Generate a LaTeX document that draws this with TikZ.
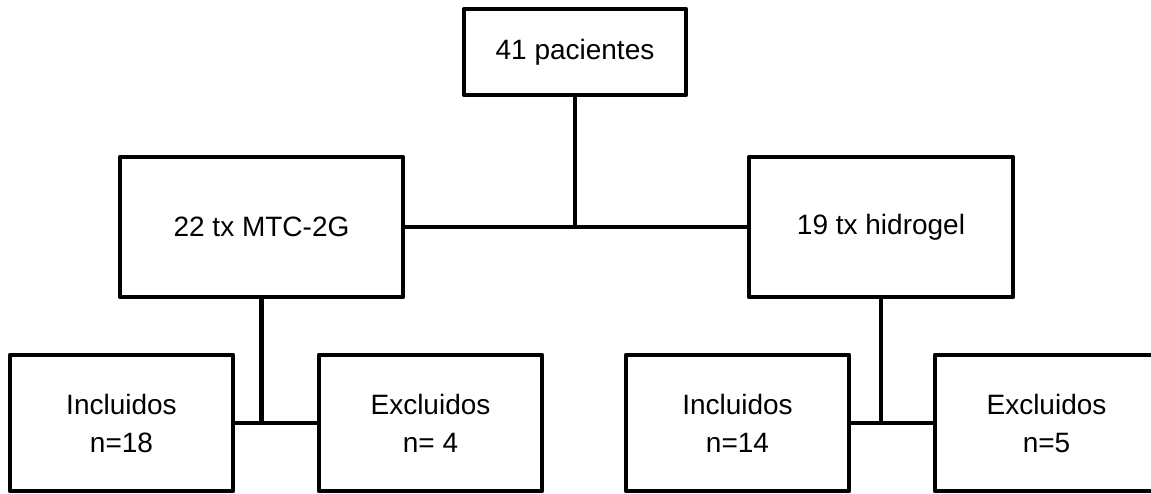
\documentclass[tikz,border=0pt]{standalone}
\usepackage{fontspec}
\setmainfont{Liberation Sans}

\begin{document}
\begin{tikzpicture}
  [
    x=0.75pt, y=-0.75pt,
    box/.style={draw, line width=3.5pt, line join=round, align=center,
      font=\fontsize{21}{28.5}\selectfont},
    link/.style={line width=3.5pt}
  ]
  \clip (0, 0) rectangle (1151, 493);
  \node [box, minimum width=166.5pt, minimum height=64.5pt] at (575, 52) (pac) {41 pacientes};
  \node [box, minimum width=212.25pt, minimum height=105pt] at (261.5, 227) (mtc) {22 tx MTC-2G};
  \node [box, minimum width=198pt, minimum height=105pt] at (881, 227) (hid) {19 tx hidrogel};
  \foreach \name/\pos/\txt in {inc1/121.5/{Incluidos\\n=18}, exc1/430.5/{Excluidos\\n= 4},
      inc2/737.5/{Incluidos\\n=14}, exc2/1046.5/{Excluidos\\n=5}}{
    \node [box, minimum width=167.25pt, minimum height=102pt] at (\pos, 423) (\name) {\txt};
  }
  \draw [link] (mtc) -- (hid);
  \draw [link] (pac) -- (pac |- mtc);
  \draw [link] (inc1) -- (exc1);
  \draw [link] (mtc) -- (mtc |- inc1);
  \draw [link] (inc2) -- (exc2);
  \draw [link] (hid) -- (hid |- inc2);

\end{tikzpicture}
\end{document}
